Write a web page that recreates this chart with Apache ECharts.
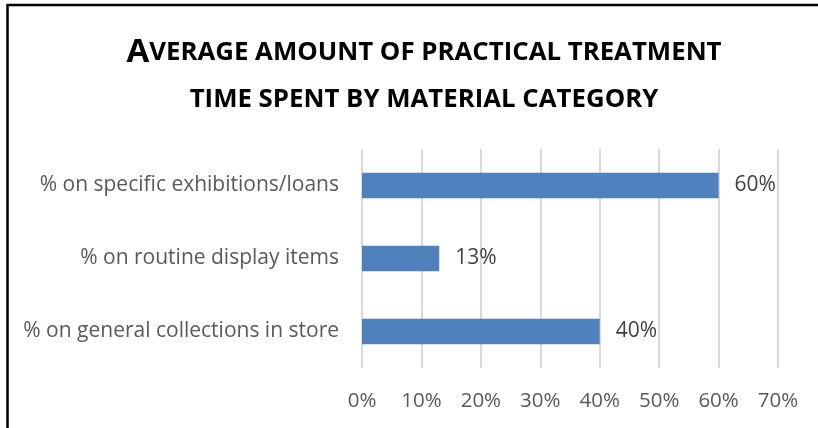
<!DOCTYPE html>
<html>
<head>
<meta charset="utf-8">
<script src="https://cdn.jsdelivr.net/npm/echarts@6/dist/echarts.min.js"></script>
<style>
  html, body { margin: 0; padding: 0; background: #ffffff; }
  #chart { width: 818px; height: 428px; }
</style>
</head>
<body>
<div id="chart"></div>
<script>
// Categories listed bottom-to-top, as the horizontal bar axis draws them
const categories = [
  '% on general collections in store',
  '% on routine display items',
  '% on specific exhibitions/loans'
];
const shareValues = [40, 13, 60];
const tickValues = [0, 10, 20, 30, 40, 50, 60, 70];

const chart = echarts.init(document.getElementById('chart'), null, { renderer: 'canvas' });

const labelFont = '"Open Sans", Lato, sans-serif';

chart.setOption({
  backgroundColor: '#ffffff',
  animation: false,
  title: {
    text: '{cap|A}{sc|VERAGE AMOUNT OF PRACTICAL TREATMENT}\n{sc|TIME SPENT BY MATERIAL CATEGORY}',
    left: 419,
    top: 24,
    textAlign: 'center',
    textStyle: {
      rich: {
        cap: { fontFamily: '"Open Sans", sans-serif', fontWeight: 'bold', fontSize: 33, color: '#000000', lineHeight: 47 },
        sc: { fontFamily: '"Open Sans", sans-serif', fontWeight: 'bold', fontSize: 25.8, color: '#000000', lineHeight: 47 }
      }
    }
  },
  graphic: [
    {
      type: 'rect',
      shape: { x: 7.5, y: 5, width: 900, height: 500 },
      style: { fill: 'none', stroke: '#000000', lineWidth: 2.5 },
      silent: true
    }
  ],
  grid: { left: 362, right: 40, top: 149, bottom: 60, containLabel: false },
  xAxis: {
    type: 'value',
    min: tickValues[0],
    max: tickValues[tickValues.length - 1],
    interval: 10,
    axisLine: { show: false },
    axisTick: { show: false },
    splitLine: { show: true, lineStyle: { color: '#d9d9d9', width: 2 } },
    axisLabel: {
      formatter: v => v + '%',
      color: '#595959',
      fontFamily: labelFont,
      fontSize: 20.5,
      margin: 23
    }
  },
  yAxis: {
    type: 'category',
    data: categories,
    axisLine: { show: false },
    axisTick: { show: false },
    axisLabel: {
      color: '#595959',
      fontFamily: labelFont,
      fontSize: 21,
      margin: 23,
      padding: [4, 0, 0, 0]
    }
  },
  series: [
    {
      type: 'bar',
      data: shareValues,
      barCategoryGap: '65%',
      itemStyle: { color: '#4f81bd' },
      label: {
        show: true,
        position: 'right',
        distance: 16,
        formatter: p => p.value + '%',
        color: '#404040',
        fontFamily: labelFont,
        fontSize: 21,
        padding: [4, 0, 0, 0]
      }
    }
  ]
});
</script>
</body>
</html>
